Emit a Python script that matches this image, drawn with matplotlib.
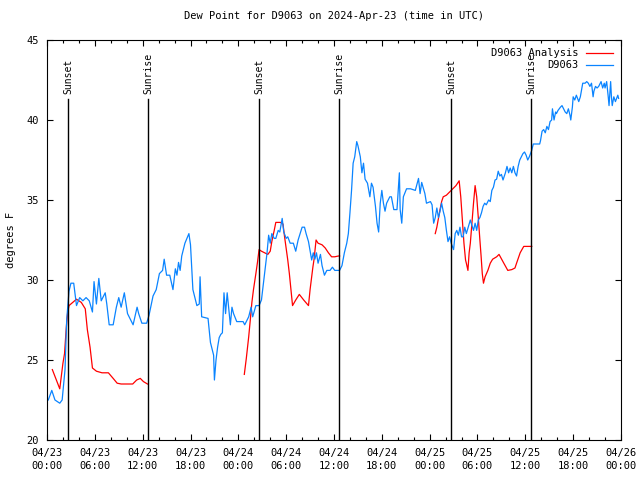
import numpy as np
import matplotlib.pyplot as plt

plt.rcParams['font.family'] = ['DejaVu Sans Mono']

# hours since 2024-04-23 00:00 UTC
obs_t = [0.16, 0.6, 1.0, 1.6, 1.9, 2.26, 2.47, 2.76, 3.0, 3.35, 3.7, 4.1, 4.5, 4.9, 5.3, 5.7, 5.9, 6.2, 6.5, 6.8,
         7.3, 7.5, 7.8, 8.3, 8.7, 9.0, 9.3, 9.7, 10.1, 10.8, 11.3, 11.5, 11.9, 12.5, 12.8, 13.3, 13.7, 14.1, 14.5, 14.7,
         15.0, 15.4, 15.8, 16.1, 16.3, 16.5, 16.7, 16.9, 17.3, 17.8, 18.0, 18.3, 18.8, 19.1, 19.2, 19.4, 20.2, 20.5, 20.9, 21.0,
         21.2, 21.4, 21.6, 21.8, 22.0, 22.2, 22.4, 22.6, 23.0, 23.2, 23.4, 23.8, 24.6, 24.8, 25.3, 25.6, 25.8, 26.2, 26.6, 26.9,
         27.2, 27.6, 27.8, 28.0, 28.2, 28.5, 28.7, 29.0, 29.2, 29.5, 29.7, 30.0, 30.2, 30.5, 30.9, 31.2, 31.5, 32.0, 32.3, 32.5,
         32.8, 33.2, 33.4, 33.6, 33.8, 34.0, 34.3, 34.5, 34.8, 35.1, 35.5, 35.8, 36.1, 36.7, 37.0, 37.3, 37.6, 37.8, 38.0, 38.2,
         38.4, 38.6, 38.85, 39.0, 39.3, 39.5, 39.7, 39.9, 40.2, 40.5, 40.7, 40.9, 41.2, 41.4, 41.6, 41.8, 42.0, 42.2, 42.4, 42.6,
         43.0, 43.2, 43.5, 43.9, 44.2, 44.3, 44.5, 44.7, 45.1, 45.6, 46.2, 46.6, 46.8, 47.0, 47.4, 47.6, 48.1, 48.3, 48.5, 48.7,
         48.9, 49.1, 49.3, 49.5, 49.7, 49.9, 50.1, 50.3, 50.5, 50.7, 51.0, 51.2, 51.4, 51.6, 51.8, 52.0, 52.2, 52.4, 52.6, 52.9,
         53.1, 53.3, 53.5, 53.7, 53.9, 54.1, 54.3, 54.5, 54.7, 54.9, 55.1, 55.4, 55.6, 55.8, 56.0, 56.2, 56.4, 56.6, 56.8, 57.0,
         57.2, 57.5, 57.7, 57.9, 58.1, 58.3, 58.5, 58.7, 58.9, 59.1, 59.3, 59.5, 59.7, 59.9, 60.1, 60.3, 60.5, 60.8, 61.0, 61.4,
         61.8, 61.9, 62.1, 62.3, 62.5, 62.7, 62.9, 63.1, 63.3, 63.4, 63.6, 63.8, 63.9, 64.1, 64.4, 64.6, 64.8, 65.0, 65.2, 65.4,
         65.6, 65.7, 65.9, 66.0, 66.2, 66.4, 66.7, 66.9, 67.2, 67.5, 67.7, 67.9, 68.1, 68.3, 68.5, 68.6, 68.8, 69.0, 69.2, 69.4,
         69.5, 69.7, 69.9, 70.0, 70.2, 70.4, 70.5, 70.7, 70.8, 70.9, 71.1, 71.3, 71.6, 71.7]
obs_dew = [22.5, 23.1, 22.5, 22.3, 22.5, 24.4, 27.5, 29.3, 29.8, 29.8, 28.4, 28.9, 28.7, 28.9, 28.7, 28.0, 29.9, 28.5, 30.1, 28.7,
           29.2, 28.5, 27.2, 27.2, 28.3, 28.9, 28.3, 29.2, 27.9, 27.2, 28.3, 27.9, 27.3, 27.3, 27.8, 29.0, 29.4, 30.4, 30.6, 31.3,
           30.3, 30.3, 29.4, 30.7, 30.3, 31.1, 30.6, 31.5, 32.3, 32.9, 32.2, 29.4, 28.4, 28.5, 30.2, 27.7, 27.6, 26.1, 25.3, 23.75,
           25.0, 25.8, 26.4, 26.6, 26.7, 29.2, 27.9, 29.2, 27.2, 28.3, 27.9, 27.4, 27.4, 27.2, 27.7, 28.3, 27.7, 28.4, 28.4, 28.75,
           30.0, 31.7, 32.8, 32.3, 32.9, 32.6, 32.6, 33.1, 33.0, 33.85, 33.0, 32.6, 32.7, 32.3, 32.3, 31.8, 32.5, 33.3, 33.3, 32.9,
           32.4, 31.25, 31.7, 31.3, 31.7, 31.05, 31.6, 30.9, 30.3, 30.6, 30.6, 30.8, 30.6, 30.6, 30.9, 31.7, 32.3, 32.9, 34.2, 35.6,
           37.3, 37.7, 38.65, 38.4, 37.7, 36.7, 37.3, 36.3, 36.05, 35.2, 36.05, 35.8, 34.6, 33.55, 33.0, 34.8, 35.6, 34.8, 34.3, 34.8,
           35.2, 35.2, 34.4, 34.4, 36.7, 34.4, 33.55, 35.2, 35.7, 35.7, 35.6, 36.35, 35.4, 36.1, 35.4, 34.8, 34.9, 34.7, 33.55, 33.9,
           34.5, 33.9, 34.3, 34.8, 34.3, 33.9, 33.1, 32.4, 32.7, 32.3, 31.9, 32.9, 33.1, 32.8, 33.3, 32.7, 32.7, 33.3, 32.9, 33.4,
           33.75, 33.4, 33.1, 33.55, 33.1, 33.75, 33.9, 34.2, 34.6, 34.8, 34.7, 35.0, 34.9, 35.6, 35.8, 36.25, 36.3, 36.8, 36.5, 36.6,
           36.25, 36.7, 37.1, 36.7, 37.0, 36.7, 37.1, 36.7, 36.5, 37.1, 37.5, 37.7, 37.9, 38.0, 37.8, 37.5, 37.7, 38.1, 38.5, 38.5,
           38.5, 38.7, 39.3, 39.4, 39.2, 39.6, 39.4, 39.9, 40.0, 40.7, 40.0, 40.5, 40.4, 40.6, 40.8, 40.9, 40.7, 40.5, 40.4, 40.7,
           40.3, 40.0, 40.8, 41.45, 41.25, 41.55, 41.15, 41.45, 42.3, 42.3, 42.4, 42.3, 42.1, 42.3, 41.45, 41.8, 42.1, 42.0, 42.1, 42.3,
           42.4, 42.0, 42.3, 42.0, 42.4, 41.45, 40.9, 42.4, 41.45, 40.9, 41.45, 41.15, 41.55, 41.35]

# analysis, NaN marks the gaps
ana_t = [0.67, 1.6, 2.0, 2.2, 2.4, 2.5, 2.6, 2.76, 3.7, 4.3, 4.8, 5.06, 5.4, 5.7, 6.2, 6.9, 7.7, 8.3, 8.8, 9.3,
         10.75, 11.25, 11.7, 12.1, 12.6, 18.0,
         24.75, 25.0, 25.3, 25.5, 25.7, 25.9, 26.2, 26.4, 26.6, 26.9, 27.3, 27.7, 28.0, 28.2, 28.5, 28.7, 29.1, 29.3, 29.6, 29.8,
         30.2, 30.4, 30.8, 31.2, 31.65, 32.2, 32.8, 33.0, 33.35, 33.5, 33.75, 34.0, 34.5, 34.9, 35.3, 35.7, 36.1, 36.55, 36.7, 42.0,
         48.7, 48.9, 49.1, 49.3, 49.5, 49.7, 50.1, 50.5, 50.9, 51.3, 51.7, 51.9, 52.1, 52.3, 52.5, 52.6, 52.8, 52.95, 53.1, 53.3,
         53.5, 53.7, 53.9, 54.1, 54.3, 54.45, 54.6, 54.75, 54.95, 55.3, 55.6, 55.9, 56.4, 56.7, 57.3, 57.8, 58.3, 58.7, 58.9, 59.35,
         59.8, 60.8]
ana_dew = [24.4, 23.2, 24.8, 25.4, 26.9, 27.5, 28.0, 28.4, 28.8, 28.6, 28.2, 26.9, 25.8, 24.5, 24.3, 24.2, 24.2, 23.85, 23.55, 23.5,
           23.5, 23.75, 23.85, 23.65, 23.5, np.nan,
           24.1, 25.1, 26.45, 27.5, 28.6, 29.4, 30.4, 31.1, 31.9, 31.8, 31.7, 31.6, 31.8, 32.4, 33.1, 33.6, 33.6, 33.6, 33.5, 32.7,
           31.25, 30.4, 28.4, 28.75, 29.1, 28.75, 28.4, 29.4, 30.8, 31.3, 32.5, 32.3, 32.2, 32.0, 31.7, 31.45, 31.45, 31.5, 31.5, np.nan,
           32.9, 33.3, 33.85, 34.4, 34.9, 35.2, 35.3, 35.5, 35.7, 35.9, 36.2, 35.2, 33.75, 32.3, 31.25, 31.05, 30.6, 31.7, 32.3, 33.55,
           34.8, 35.9, 35.2, 33.9, 32.5, 31.5, 30.4, 29.8, 30.2, 30.6, 31.05, 31.3, 31.45, 31.6, 31.05, 30.6, 30.65, 30.75, 31.05, 31.7,
           32.1, 32.1]

sun_t = [2.67, 12.71, 26.64, 36.67, 50.73, 60.77]
sun_lbl = ["Sunset", "Sunrise", "Sunset", "Sunrise", "Sunset", "Sunrise"]

xtick_lbl = ["04/23\n00:00", "04/23\n06:00", "04/23\n12:00", "04/23\n18:00",
             "04/24\n00:00", "04/24\n06:00", "04/24\n12:00", "04/24\n18:00",
             "04/25\n00:00", "04/25\n06:00", "04/25\n12:00", "04/25\n18:00", "04/26\n00:00"]

fig = plt.figure(figsize=(6.4, 4.8), dpi=100)
ax = fig.add_axes([47/640, 40/480, 574/640, 400/480])

ax.plot(ana_t, ana_dew, color="#ff0000", lw=0.9, label="D9063 Analysis")
ax.plot(obs_t, obs_dew, color="#0a84ff", lw=0.9, label="D9063")

# sunrise / sunset markers
for t, s in zip(sun_t, sun_lbl):
    ax.plot([t, t], [20, 41.3], color="black", lw=1.0)
    ax.text(t, 41.65, s, rotation=90, ha="center", va="bottom", fontsize=7)

ax.set_xlim(0, 72)
ax.set_ylim(20, 45)
ax.set_xticks(np.arange(0, 73, 6))
ax.set_xticklabels(xtick_lbl, linespacing=1.35)
ax.set_xticks(np.arange(0, 73, 2), minor=True)
ax.set_yticks([20, 25, 30, 35, 40, 45])
ax.tick_params(which="both", direction="in", top=True, right=True, labelsize=7.5)
ax.tick_params(which="major", length=4, width=0.8)
ax.tick_params(which="minor", length=2.2, width=0.8)
ax.tick_params(axis="x", pad=6)
ax.tick_params(axis="y", pad=6)

ax.set_ylabel("degrees F", fontsize=7.5, labelpad=7)
ax.set_title("Dew Point for D9063 on 2024-Apr-23 (time in UTC)", fontsize=7.5, pad=15)
ax.legend(loc="upper right", frameon=False, markerfirst=False, fontsize=7.5,
          handlelength=2.6, handletextpad=0.7, labelspacing=0.2, borderaxespad=0.4)

plt.savefig("out.png")
